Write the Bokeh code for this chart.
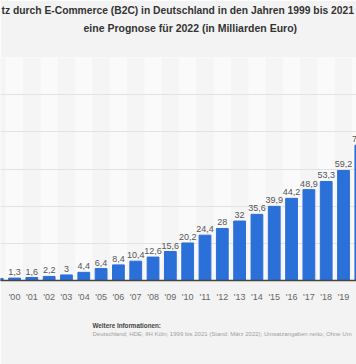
from bokeh.plotting import figure
from bokeh.models import Range1d, FixedTicker, Title, ColumnDataSource
from bokeh.core.properties import value
from bokeh.embed import file_html
from bokeh.resources import INLINE

years = [1999, 2000, 2001, 2002, 2003, 2004, 2005, 2006, 2007, 2008, 2009,
         2010, 2011, 2012, 2013, 2014, 2015, 2016, 2017, 2018, 2019, 2020]
umsatz = [1.1, 1.3, 1.6, 2.2, 3, 4.4, 6.4, 8.4, 10.4, 12.6, 15.6,
          20.2, 24.4, 28, 32, 35.6, 39.9, 44.2, 48.9, 53.3, 59.2, 72.8]
tick_labels = ["'" + str(y)[2:] for y in years]
title_lines = ["tz durch E-Commerce (B2C) in Deutschland in den Jahren 1999 bis 2021",
               "eine Prognose für 2022 (in Milliarden Euro)"]
info_head = "Weitere Informationen:"
info_text = "Deutschland; HDE; IfH Köln; 1999 bis 2021 (Stand: März 2022); Umsatzangaben netto; Ohne Um"

FONT = "Liberation Sans"
idx = list(range(len(years)))
labels = [("%g" % v).replace(".", ",") for v in umsatz]
labels[0] = ""  # value label of 1999 lies outside the visible crop
src = ColumnDataSource(dict(x=idx, y=umsatz, lab=labels))

p = figure(width=356, height=364, output_backend="svg", toolbar_location=None,
           x_range=Range1d(0.19, 20.75), y_range=Range1d(0, 120),
           y_axis_location=None, min_border_left=0, min_border_right=0,
           min_border_top=57, min_border_bottom=84)
p.border_fill_color = "#f3f3f3"
p.background_fill_color = "#fafafa"
p.outline_line_color = None

# vertical bands
p.xgrid.ticker = FixedTicker(ticks=[i - 0.5 for i in range(0, 24)])
p.xgrid.grid_line_color = None
p.xgrid.band_fill_color = "#f5f5f5"
p.xgrid.band_fill_alpha = 1.0
# horizontal grid
p.ygrid.ticker = FixedTicker(ticks=[20, 40, 60, 80, 100, 120])
p.ygrid.grid_line_color = "#e2e2e2"
p.ygrid.grid_line_width = 1

p.vbar(x="x", top="y", width=0.68, source=src, color="#2b6fd8")
p.text(x="x", y="y", text="lab", source=src, text_align="center",
       text_baseline="bottom", y_offset=-3, text_font=value(FONT),
       text_font_size="9px", text_color="#555555")

ax = p.xaxis[0]
ax.ticker = FixedTicker(ticks=idx)
ax.major_label_overrides = {i: t for i, t in zip(idx, tick_labels)}
ax.major_tick_line_color = None
ax.minor_tick_line_color = None
ax.axis_line_color = "#444444"
ax.axis_line_width = 1.5
ax.major_label_standoff = 5
ax.major_label_text_font = FONT
ax.major_label_text_font_size = "9px"
ax.major_label_text_color = "#666666"

def ttl(text, size, style, color, align="center", offset=0, standoff=0):
    return Title(text=text, align=align, offset=offset, standoff=standoff,
                 text_font=FONT, text_font_size=size, text_font_style=style,
                 text_color=color)

def spacer(h):
    return Title(text=" ", text_font_size="1px", standoff=max(h - 3, 0),
                 text_color="#f3f3f3")

# above: added from the frame outward
p.add_layout(spacer(22), "above")
p.add_layout(ttl(title_lines[1], "10.5px", "bold", "#333333", align="left", offset=83, standoff=4), "above")
p.add_layout(ttl(title_lines[0], "10.3px", "bold", "#333333", align="left", offset=1, standoff=4), "above")
# below: added from the axis downward
p.add_layout(spacer(15), "below")
p.add_layout(ttl(info_head, "6.3px", "bold", "#444444", align="left", offset=92, standoff=0), "below")
p.add_layout(ttl(info_text, "6px", "normal", "#a0a0a0", align="left", offset=92, standoff=0), "below")

open("out.html", "w").write(file_html(p, INLINE))
